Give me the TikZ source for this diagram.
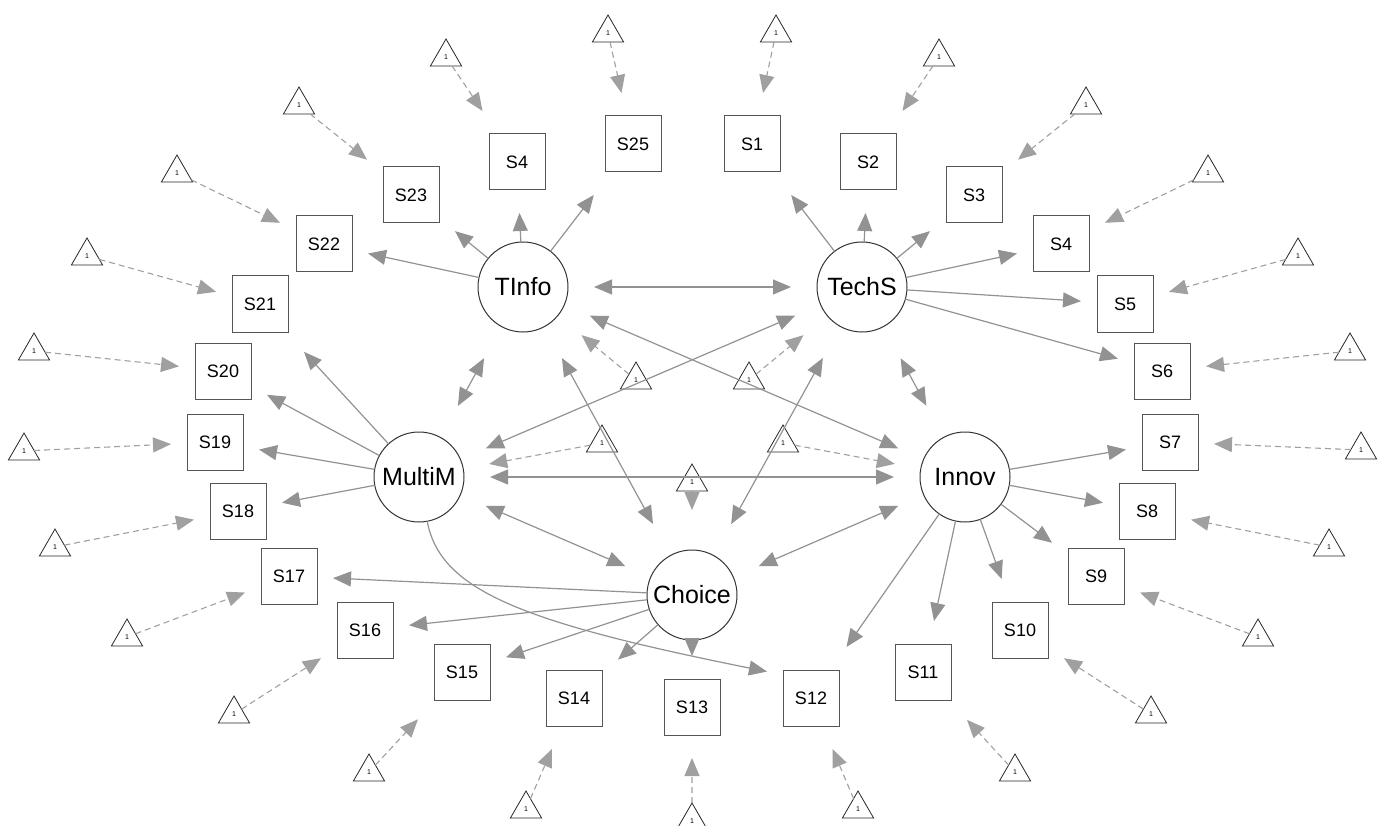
\documentclass[tikz,border=0pt]{standalone}
\usepackage{fontspec}
\setmainfont{Liberation Sans}
\usetikzlibrary{shapes.geometric,arrows.meta}
\definecolor{edgegray}{RGB}{146,146,146}
\definecolor{dashgray}{RGB}{160,160,160}
\definecolor{boxline}{RGB}{85,85,85}
\begin{document}
\begin{tikzpicture}[x=1pt,y=-1pt,
  ind/.style={draw=boxline, line width=1pt, rectangle, minimum size=56pt, inner sep=0pt,
              outer xsep=16pt, outer ysep=23pt, font=\fontsize{18}{20}\selectfont},
  lat/.style={draw=black!80, line width=1pt, circle, minimum size=90pt, inner sep=0pt,
              outer sep=0pt, font=\fontsize{25}{28}\selectfont},
  halo/.style={ellipse, minimum width=142pt, minimum height=170pt, inner sep=0pt, outer sep=0pt},
  icpt/.style={draw=black!85, line width=0.8pt, regular polygon, regular polygon sides=3,
               minimum size=36pt, inner sep=0pt, outer sep=0pt, font=\fontsize{7}{7}\selectfont},
  tip/.tip={Triangle[length=18pt,width=15pt]},
  load/.style={draw=edgegray, line width=1.2pt, -tip},
  cov/.style={draw=edgegray, line width=1.2pt, tip-tip},
  mean/.style={draw=dashgray, line width=1.1pt, dash pattern=on 6pt off 4pt, -tip},
]
\useasboundingbox (0,0) rectangle (1384,826);
\clip (0,0) rectangle (1384,826);

% latent variables
\node[lat] (TInfo) at (523,287) {TInfo};
\node[lat] (TechS) at (862,287) {TechS};
\node[lat] (MultiM) at (419,477) {MultiM};
\node[lat] (Innov) at (965,477) {Innov};
\node[lat] (Choice) at (692,595) {Choice};
\foreach \l in {TInfo,TechS,MultiM,Innov,Choice}
  \node[halo] (h\l) at (\l) {};

% indicators
\node[ind] (S1) at (752,144) {S1};
\node[ind] (S2) at (868,162) {S2};
\node[ind] (S3) at (974,195) {S3};
\node[ind] (S4b) at (1061,244) {S4};
\node[ind] (S5) at (1125,304) {S5};
\node[ind] (S6) at (1162,371) {S6};
\node[ind] (S7) at (1170,442) {S7};
\node[ind] (S8) at (1147,511) {S8};
\node[ind] (S9) at (1096,576) {S9};
\node[ind] (S10) at (1020,630) {S10};
\node[ind] (S11) at (923,672) {S11};
\node[ind] (S12) at (811,698) {S12};
\node[ind] (S13) at (692,707) {S13};
\node[ind] (S14) at (574,698) {S14};
\node[ind] (S15) at (462,672) {S15};
\node[ind] (S16) at (365,630) {S16};
\node[ind] (S17) at (289,576) {S17};
\node[ind] (S18) at (238,511) {S18};
\node[ind] (S19) at (215,442) {S19};
\node[ind] (S20) at (223,371) {S20};
\node[ind] (S21) at (260,304) {S21};
\node[ind] (S22) at (324,244) {S22};
\node[ind] (S23) at (411,195) {S23};
\node[ind] (S4a) at (517,162) {S4};
\node[ind] (S25) at (633,144) {S25};

% intercept triangles of the indicators
\node[icpt] (tS1) at (776,33) {1};
\node[icpt] (tS2) at (939,57) {1};
\node[icpt] (tS3) at (1086,105) {1};
\node[icpt] (tS4b) at (1208,173) {1};
\node[icpt] (tS5) at (1298,256) {1};
\node[icpt] (tS6) at (1350,351) {1};
\node[icpt] (tS7) at (1361,450) {1};
\node[icpt] (tS8) at (1329,547) {1};
\node[icpt] (tS9) at (1258,637) {1};
\node[icpt] (tS10) at (1151,714) {1};
\node[icpt] (tS11) at (1015,772) {1};
\node[icpt] (tS12) at (858,809) {1};
\node[icpt] (tS13) at (692,821) {1};
\node[icpt] (tS14) at (526,809) {1};
\node[icpt] (tS15) at (369,772) {1};
\node[icpt] (tS16) at (234,714) {1};
\node[icpt] (tS17) at (127,637) {1};
\node[icpt] (tS18) at (55,547) {1};
\node[icpt] (tS19) at (24,451) {1};
\node[icpt] (tS20) at (34,351) {1};
\node[icpt] (tS21) at (87,256) {1};
\node[icpt] (tS22) at (177,173) {1};
\node[icpt] (tS23) at (299,105) {1};
\node[icpt] (tS4a) at (446,57) {1};
\node[icpt] (tS25) at (608,33) {1};

% intercept triangles of the latents
\node[icpt] (tTInfo) at (636,380) {1};
\node[icpt] (tTechS) at (749,380) {1};
\node[icpt] (tMultiM) at (602,443) {1};
\node[icpt] (tInnov) at (783,443) {1};
\node[icpt] (tChoice) at (692,482) {1};

% intercepts -> indicators
\foreach \s in {S1,S2,S3,S4b,S5,S6,S7,S8,S9,S10,S11,S12,S13,S14,S15,S16,S17,S18,S19,S20,S21,S22,S23,S4a,S25}
  \draw[mean] (t\s) -- (\s);
% intercepts -> latents
\foreach \l in {TInfo,TechS,MultiM,Innov,Choice}
  \draw[mean] (t\l) -- (h\l);

% loadings
\foreach \s in {S22,S23,S4a,S25} \draw[load] (TInfo) -- (\s);
\foreach \s in {S1,S2,S3,S4b,S5,S6} \draw[load] (TechS) -- (\s);
\foreach \s in {S21,S20,S19,S18} \draw[load] (MultiM) -- (\s);
\foreach \s in {S7,S8,S9,S10,S11,S12} \draw[load] (Innov) -- (\s);
\foreach \s in {S17,S16,S15,S14,S13} \draw[load] (Choice) -- (\s);
\draw[load] (MultiM) .. controls (440,590) and (520,622) .. (S12.149);

% covariances
\draw[cov] (hTInfo) -- (hTechS);
\draw[cov] (hTInfo) -- (hMultiM);
\draw[cov] (hTInfo) -- (hChoice);
\draw[cov] (hTInfo) -- (hInnov);
\draw[cov] (hTechS) -- (hMultiM);
\draw[cov] (hTechS) -- (hChoice);
\draw[cov] (hTechS) -- (hInnov);
\draw[cov] (hMultiM) -- (hInnov);
\draw[cov] (hMultiM) -- (hChoice);
\draw[cov] (hInnov) -- (hChoice);
\end{tikzpicture}
\end{document}
